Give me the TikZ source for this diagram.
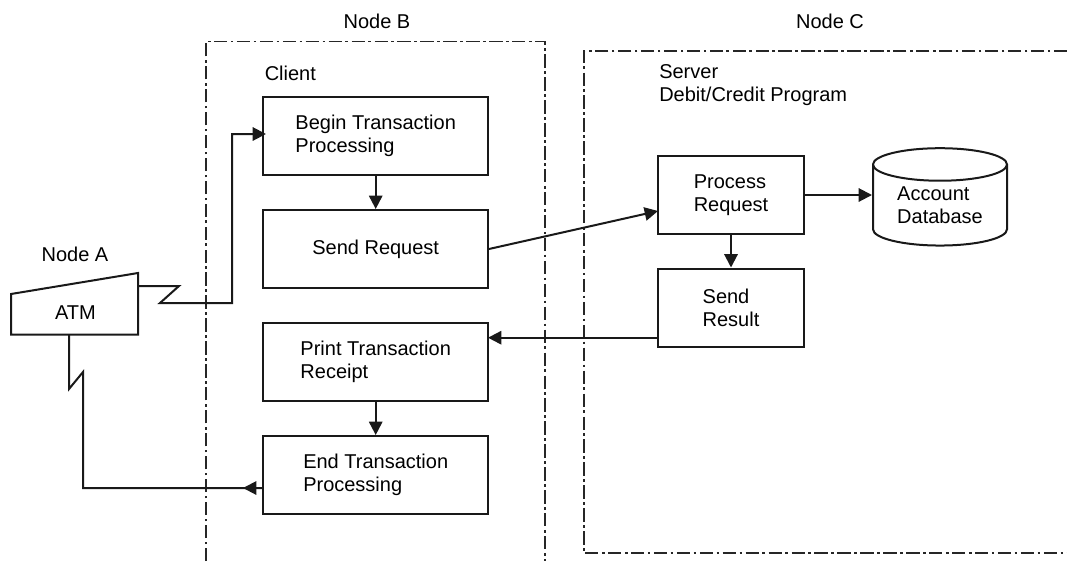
\documentclass[tikz,border=0pt]{standalone}
\usepackage{fontspec}
\setmainfont{Liberation Sans}
\usetikzlibrary{arrows.meta,shapes.geometric}
\tikzset{
  lbl/.style={inner sep=0pt,font=\fontsize{15pt}{17.2pt}\selectfont,align=left,text=black},
  stepbox/.style={lbl,draw=black!90,line width=1.5pt,minimum width=168.4pt,minimum height=58.5pt},
  resbox/.style={lbl,draw=black!90,line width=1.5pt,minimum width=109.5pt,minimum height=58.5pt},
  dbshape/.style={lbl,draw=black!90,line width=1.5pt,shape=cylinder,shape border rotate=90,aspect=0.38,minimum width=100.5pt,minimum height=73pt},
  wire/.style={draw=black!90,line width=1.5pt,line join=miter},
  arr/.style={wire,-{Triangle[length=10pt,width=10pt]}},
  bound/.style={draw=black!85,line width=1.4pt,dash pattern=on 10pt off 2.6pt on 2pt off 2.6pt}
}
\begin{document}
\begin{tikzpicture}[x=0.75pt,y=-0.75pt]
\useasboundingbox (0,0) rectangle (1067,561);
% node boundaries
\coordinate (bb1) at (206,561);\coordinate (bb2) at (206,41.5);\coordinate (bb3) at (545,41.5);\coordinate (bb4) at (545,561);
\draw[bound] (bb1) -- (bb2) -- (bb3) -- (bb4);
\coordinate (cc1) at (584,51);\coordinate (cc2) at (1067,51);\coordinate (cc3) at (584,553);\coordinate (cc4) at (1067,553);
\draw[bound] (cc2) -- (cc1) -- (cc3) -- (cc4);
% labels
\node[lbl] (nodeA) at (75,254) {Node A};
\node[lbl] (nodeB) at (377,21) {Node B};
\node[lbl] (nodeC) at (830,21) {Node C};
\node[lbl,anchor=west] (client) at (264.5,73) {Client};
\node[lbl,anchor=west] (server) at (659,85) {Server\\Debit/Credit Program};
% client boxes
\node[stepbox] (begin) at (375.7,136) {Begin Transaction\\Processing};
\node[stepbox] (send) at (375.7,249) {Send Request};
\node[stepbox] (print) at (375.7,362) {Print Transaction\\Receipt};
\node[stepbox] (endt) at (375.7,475) {End Transaction\\Processing};
% server boxes
\node[resbox] (proc) at (731,195) {Process\\Request};
\node[resbox] (result) at (731,307.5) {Send\\Result};
\node[dbshape] (db) at (940,205.5) {Account\\Database};
% ATM
\coordinate (a1) at (11,294);\coordinate (a2) at (138,273);\coordinate (a3) at (138,334.5);\coordinate (a4) at (11,334.5);
\draw[wire] (a1) -- (a2) -- (a3) -- (a4) -- cycle;
\node[lbl] (atm) at (75.5,313) {ATM};
% connectors
\coordinate (z1s) at (138,286);\coordinate (z1a) at (179,286);\coordinate (z1b) at (160,303);\coordinate (z1c) at (232,303);\coordinate (z1d) at (232,134);\coordinate (z1e) at (266,134);
\draw[arr] (z1s) -- (z1a) -- (z1b) -- (z1c) -- (z1d) -- (z1e);
\coordinate (z2s) at (69,334.5);\coordinate (z2a) at (69,389);\coordinate (z2b) at (83,372);\coordinate (z2c) at (83,488);\coordinate (z2e) at (263.5,488);\coordinate (z2t) at (243,488);
\draw[wire] (z2s) -- (z2a) -- (z2b) -- (z2c) -- (z2e);
\draw[arr] (z2e) -- (z2t);
\draw[arr] (begin) -- (send);
\draw[arr] (print) -- (endt);
\coordinate (pin) at (658,211);
\draw[arr] (send.east) -- (pin);
\draw[arr] (proc.east) -- (db.west |- proc.east);
\draw[arr] (proc) -- (result);
\coordinate (rout) at (658,337.7);\coordinate (pinn) at (488,337.7);
\draw[arr] (rout) -- (pinn);
\end{tikzpicture}
\end{document}
